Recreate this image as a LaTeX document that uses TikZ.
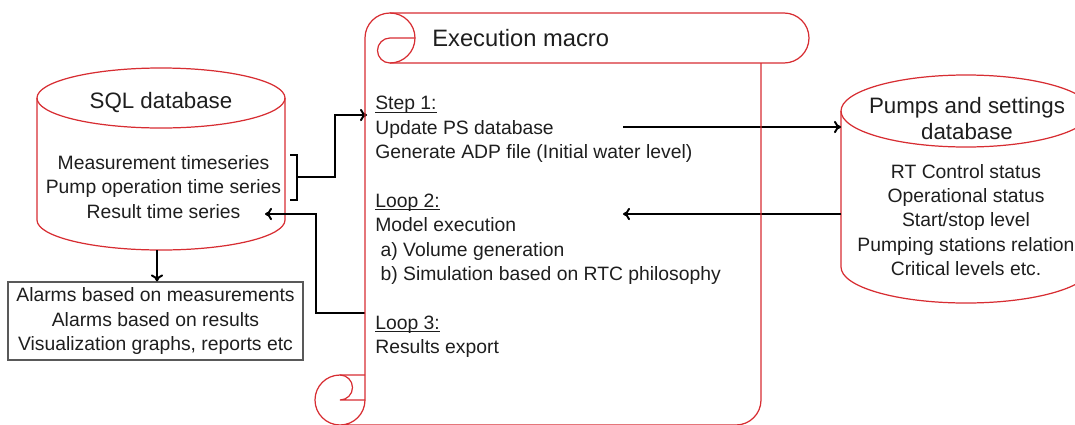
\documentclass[tikz,border=0pt]{standalone}
\usepackage{fontspec}
\usepackage{calc}
\setmainfont{Liberation Sans}
\usetikzlibrary{arrows.meta}
\definecolor{scrollred}{RGB}{215, 45, 50}
\definecolor{textgray}{RGB}{30, 30, 30}
\newcommand{\stepline}[1]{\rlap{\rule[-1.6pt]{\widthof{#1}}{0.5pt}}#1}

\begin{document}
\begin{tikzpicture}[
    body/.style={inner sep=0pt, align=center, text=textgray,
                 font=\fontsize{11}{13.9}\selectfont},
    head/.style={inner sep=0pt, align=center, text=textgray,
                 font=\fontsize{12.7}{15.3}\selectfont},
    db/.style={draw=scrollred, line width=0.7pt},
    scroll/.style={draw=scrollred, line width=0.7pt},
    alarmbox/.style={rectangle, draw=black!65, line width=0.6pt,
                minimum width=5.9cm, minimum height=1.56cm,
                inner sep=0pt, align=center, text=textgray,
                font=\fontsize{11}{13.9}\selectfont},
    arr/.style={-{To[length=4pt,width=7pt]}, line width=1.1pt, color=black}]

    \useasboundingbox (0,0) rectangle (21.5,-8.48);

    % SQL database
    \draw[db] (0.74,-1.96) -- (0.74,-4.4)
        arc[start angle=180, end angle=360, x radius=2.48, y radius=0.6]
        -- (5.70,-1.96);
    \draw[db] (3.22,-1.96) ellipse (2.48 and 0.6);
    \node[head] (sqltitle) at (3.22,-2.06) {SQL database};
    \node[body] (sqlitems) at (3.27,-3.74) {Measurement timeseries\\
                                            Pump operation time series\\
                                            Result time series};
    \coordinate (sqlbot) at (3.14,-5.0);

    % Pumps and settings database
    \draw[db] (16.82,-2.22) -- (16.82,-5.34)
        arc[start angle=180, end angle=360, x radius=2.5, y radius=0.72]
        -- (21.82,-2.22);
    \draw[db] (19.32,-2.22) ellipse (2.5 and 0.72);
    \node[head] (pstitle) at (19.34,-2.37) {Pumps and settings\\ database};
    \node[body] (psitems) at (19.32,-4.40) {RT Control status\\
                                            Operational status\\
                                            Start/stop level\\
                                            Pumping stations relation\\
                                            Critical levels etc.};
    \coordinate (psleft) at (16.82,-3.5);

    % Alarms
    \node[alarmbox] (alarms) at (3.11,-6.42) {Alarms based on measurements\\
                                        Alarms based on results\\
                                        Visualization graphs, reports etc};

    % Execution macro text
    \node[head, font=\fontsize{13.5}{16}\selectfont, anchor=west]
        (macro) at (8.64,-0.76) {Execution macro};
    \node[body, align=left, anchor=west] (steps) at (7.5,-4.54)
        {\stepline{Step 1:}\\
         Update PS database\\
         Generate ADP file (Initial water level)\\[13.9pt]
         \stepline{Loop 2:}\\
         Model execution\\
         \hspace{3pt}a) Volume generation\\
         \hspace{3pt}b) Simulation based on RTC philosophy\\[13.9pt]
         \stepline{Loop 3:}\\
         Results export};
    \coordinate (step1) at (7.34,-2.3);
    \coordinate (update) at (12.46,-2.54);
    \coordinate (model) at (12.46,-4.28);
    \coordinate (loop3) at (7.3,-6.26);
    \coordinate (result) at (5.3,-4.28);

    % Arrows
    \draw[line width=1.1pt] (5.8,-3.1) -- (5.94,-3.1) -- (5.94,-4.0) -- (5.8,-4.0);
    \coordinate (brk) at (5.94,-3.54);
    \draw[arr] (brk) -- (6.7,-3.54) |- (step1);
    \draw[arr] (update) -- (update -| psleft);
    \draw[arr] (model -| psleft) -- (model);
    \draw[arr] (loop3) -- ++(-0.98,0) |- (result);
    \draw[arr] (sqlbot) -- (sqlbot |- alarms.north);

    % Scroll outline
    \draw[scroll] (7.3,-8.0) -- (7.3,-0.76)
        arc[start angle=180, end angle=90, radius=0.5] -- (15.68,-0.26)
        arc[start angle=90, end angle=-90, radius=0.5] -- (7.8,-1.26);
    \draw[scroll] (7.8,-0.26) arc[start angle=90, end angle=-90, radius=0.5];
    \draw[scroll] (8.3,-0.76) -- (7.8,-0.76)
        arc[start angle=90, end angle=270, radius=0.25];
    \draw[scroll] (15.22,-1.26) -- (15.22,-8.0)
        arc[start angle=0, end angle=-90, radius=0.5] -- (6.8,-8.5)
        arc[start angle=-90, end angle=0, radius=0.5];
    \draw[scroll] (7.3,-7.5) -- (6.8,-7.5)
        arc[start angle=90, end angle=270, radius=0.5];
    \draw[scroll] (6.8,-7.5) arc[start angle=90, end angle=-90, radius=0.25]
        -- (7.3,-8.0);
\end{tikzpicture}
\end{document}
